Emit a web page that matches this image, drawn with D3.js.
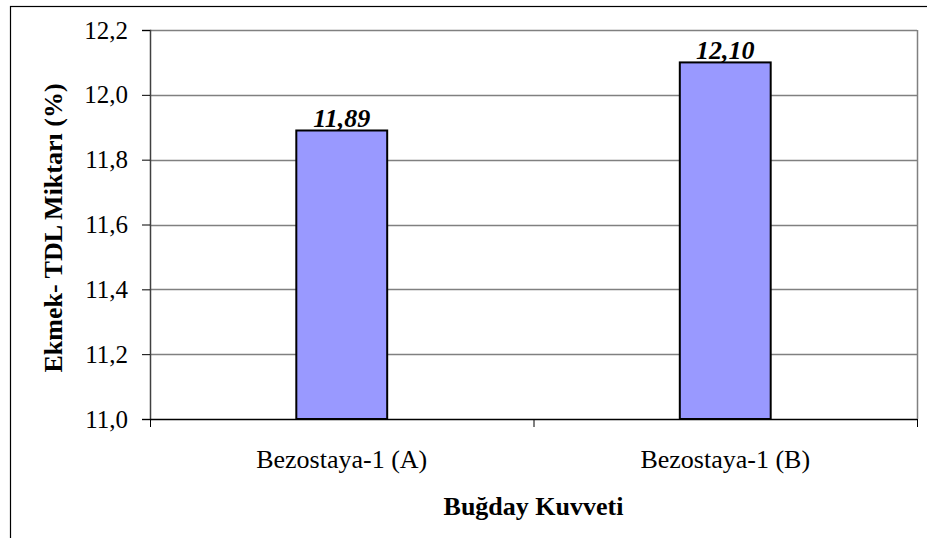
<!DOCTYPE html>
<html>
<head>
<meta charset="utf-8">
<script src="https://cdn.jsdelivr.net/npm/d3@7"></script>
<style>
  html, body { margin: 0; padding: 0; background: #fff; }
  svg { display: block; }
  text { font-family: "Liberation Serif", "Times New Roman", serif; fill: #000; }
</style>
</head>
<body>
<svg id="chart" width="927" height="538"></svg>
<script>
// Bread TDF content by wheat strength
const categories = ["Bezostaya-1 (A)", "Bezostaya-1 (B)"];
const values = [11.89, 12.10];
const valueLabels = ["11,89", "12,10"];
const yTicks = [11.0, 11.2, 11.4, 11.6, 11.8, 12.0, 12.2];
const yTickLabels = ["11,0", "11,2", "11,4", "11,6", "11,8", "12,0", "12,2"];
const xTitle = "Buğday Kuvveti";
const yTitle = "Ekmek- TDL Miktarı (%)";

const svg = d3.select("#chart");
const W = 927, H = 538;
const plot = { left: 150, top: 30, right: 917, bottom: 419 };

// chart frame
svg.append("rect")
  .attr("x", 10.5).attr("y", 6.5)
  .attr("width", W + 20).attr("height", H + 20)
  .attr("fill", "#fff").attr("stroke", "#000").attr("stroke-width", 1.2);

const x = d3.scaleBand()
  .domain(categories)
  .range([plot.left, plot.right])
  .paddingInner(0).paddingOuter(0);

const y = d3.scaleLinear()
  .domain([11.0, 12.2])
  .range([plot.bottom, plot.top]);

// gridlines
svg.append("g")
  .selectAll("line")
  .data(yTicks.slice(1))
  .join("line")
  .attr("x1", plot.left).attr("x2", plot.right)
  .attr("y1", d => Math.round(y(d)) + 0.5).attr("y2", d => Math.round(y(d)) + 0.5)
  .attr("stroke", "#808080").attr("stroke-width", 1.3);

// right border of plot area
svg.append("line")
  .attr("x1", plot.right + 0.5).attr("x2", plot.right + 0.5)
  .attr("y1", plot.top).attr("y2", plot.bottom)
  .attr("stroke", "#808080").attr("stroke-width", 1.5);

// bars
const barW = x.bandwidth() * 0.237;
svg.append("g")
  .selectAll("rect")
  .data(values)
  .join("rect")
  .attr("x", (d, i) => x(categories[i]) + x.bandwidth() / 2 - barW / 2)
  .attr("y", d => y(d))
  .attr("width", barW)
  .attr("height", d => y(11.0) - y(d))
  .attr("fill", "#9999FF")
  .attr("stroke", "#000")
  .attr("stroke-width", 2);

// value labels
svg.append("g")
  .selectAll("text")
  .data(values)
  .join("text")
  .attr("x", (d, i) => x(categories[i]) + x.bandwidth() / 2)
  .attr("y", d => y(d) - 3)
  .attr("text-anchor", "middle")
  .attr("font-size", 26)
  .attr("font-weight", "bold")
  .attr("font-style", "italic")
  .text((d, i) => valueLabels[i]);

// y axis
const yAxis = d3.axisLeft(y)
  .tickValues(yTicks)
  .tickFormat((d, i) => yTickLabels[i])
  .tickSize(8)
  .tickPadding(14);
const gy = svg.append("g")
  .attr("transform", `translate(${plot.left},0)`)
  .call(yAxis);
gy.select(".domain").attr("stroke", "#404040").attr("stroke-width", 1.5);
gy.selectAll(".tick line").attr("stroke", "#000");
gy.selectAll(".tick text")
  .attr("font-size", 25)
  .attr("font-family", "Liberation Serif, Times New Roman, serif")
  .attr("fill", "#000");

// x axis: ticks at category boundaries
const xEdges = [plot.left, x(categories[1]), plot.right];
svg.append("line")
  .attr("x1", plot.left).attr("x2", plot.right)
  .attr("y1", plot.bottom + 0.5).attr("y2", plot.bottom + 0.5)
  .attr("stroke", "#000").attr("stroke-width", 1.5);
svg.append("g")
  .selectAll("line")
  .data(xEdges)
  .join("line")
  .attr("x1", d => d + 0.5).attr("x2", d => d + 0.5)
  .attr("y1", plot.bottom).attr("y2", plot.bottom + 8)
  .attr("stroke", "#000");

svg.append("g")
  .selectAll("text")
  .data(categories)
  .join("text")
  .attr("x", d => x(d) + x.bandwidth() / 2)
  .attr("y", 468)
  .attr("text-anchor", "middle")
  .attr("font-size", 26)
  .text(d => d);

// axis titles
svg.append("text")
  .attr("x", (plot.left + plot.right) / 2)
  .attr("y", 515)
  .attr("text-anchor", "middle")
  .attr("font-size", 26)
  .attr("font-weight", "bold")
  .text(xTitle);

svg.append("text")
  .attr("transform", "translate(62,228) rotate(-90)")
  .attr("text-anchor", "middle")
  .attr("font-size", 26)
  .attr("font-weight", "bold")
  .text(yTitle);
</script>
</body>
</html>
